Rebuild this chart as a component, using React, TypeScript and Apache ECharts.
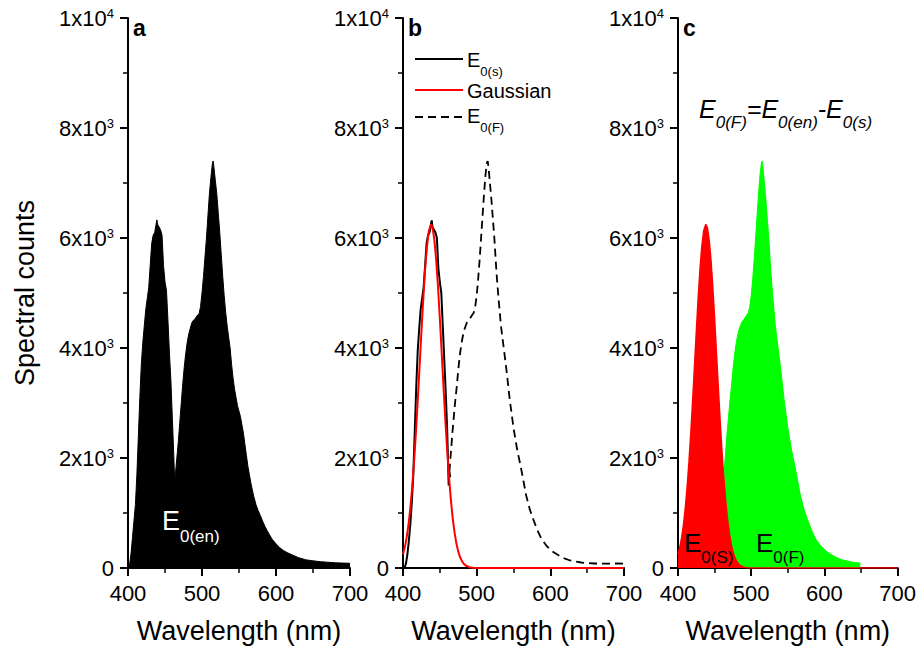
import React, { useEffect, useRef } from "react";
import * as echarts from "echarts";

const FONT = "'Liberation Sans', Arial, Helvetica, sans-serif";

// Panel a: measured emission spectrum E0(en) [wavelength nm, counts]
const E_en: [number, number][] = [
  [400, 0], [402, 50], [404, 250], [406, 550], [408, 850], [410, 1150], [412, 1700], [414, 2400],
  [416, 3100], [418, 3700], [420, 4100], [422, 4400], [424, 4700], [426, 4900], [428, 5100],
  [430, 5500], [432, 5900], [434, 6050], [436, 6100], [438, 6250], [439, 6330], [440, 6250],
  [442, 6200], [444, 6150], [446, 6050], [448, 5500], [450, 5200], [452, 5050], [454, 4500],
  [456, 3900], [458, 3400], [460, 2700], [462, 2000], [463, 1600], [464, 1700], [466, 2000],
  [468, 2300], [470, 2650], [472, 3000], [474, 3350], [476, 3650], [478, 3900], [480, 4100],
  [482, 4250], [484, 4350], [486, 4450], [488, 4500], [490, 4520], [492, 4560], [494, 4600],
  [496, 4620], [498, 4750], [500, 5000], [502, 5300], [504, 5650], [506, 6000], [508, 6400],
  [510, 6800], [512, 7100], [514, 7350], [515, 7400], [516, 7300], [518, 7050], [520, 6800],
  [522, 6450], [524, 6100], [526, 5700], [528, 5300], [530, 4950], [532, 4650], [534, 4400],
  [536, 4200], [538, 4000], [540, 3700], [542, 3450], [544, 3250], [546, 3100], [548, 2950],
  [550, 2850], [552, 2750], [554, 2600], [556, 2450], [558, 2250], [560, 2050], [562, 1850],
  [564, 1700], [566, 1550], [568, 1420], [570, 1300], [573, 1150], [576, 1040], [579, 950],
  [582, 850], [585, 760], [588, 680], [591, 610], [595, 520], [600, 440], [605, 370], [610, 320],
  [615, 280], [620, 250], [630, 190], [640, 150], [650, 130], [660, 115], [670, 105], [680, 95],
  [690, 90], [700, 85],
];

// Panel b: E0(s) measured blue band
const E_s: [number, number][] = [
  [400, 0], [402, 0], [404, 80], [406, 250], [408, 500], [410, 800], [412, 1200], [414, 1700],
  [416, 2500], [418, 3300], [420, 3950], [422, 4350], [424, 4700], [426, 4900], [428, 5100],
  [430, 5500], [432, 5900], [434, 6050], [436, 6100], [438, 6250], [439, 6320], [440, 6200],
  [442, 6150], [444, 6100], [446, 6000], [448, 5450], [450, 5200], [452, 5000], [454, 4400],
  [456, 3800], [458, 3200], [460, 2500], [461, 2000], [462, 1500], [463, 1750], [464, 1650],
];

// Gaussian fit of the blue band (panel b red line, panel c red area)
const Gauss: [number, number][] = [
  [400, 252], [402.5, 380], [405, 556], [407.5, 791], [410, 1096], [412.5, 1474], [415, 1929],
  [417.5, 2457], [420, 3042], [422.5, 3665], [425, 4293], [427.5, 4893], [430, 5422],
  [432.5, 5845], [435, 6126], [438, 6250], [440, 6194], [442.5, 5975], [445, 5605],
  [447.5, 5115], [450, 4537], [452.5, 3917], [455, 3288], [457.5, 2685], [460, 2131],
  [462.5, 1647], [465, 1237], [467.5, 904], [470, 642], [472.5, 444], [475, 298], [477.5, 195],
  [480, 124], [482.5, 77], [485, 46], [490, 15], [495, 5], [500, 0], [700, 0],
];

// E0(F) = E0(en) - E0(s)
const E_F: [number, number][] = [
  [463, 1750], [465, 2100], [467, 2450], [469, 2750], [471, 3050], [473, 3300], [475, 3600],
  [477, 3850], [479, 4050], [481, 4200], [483, 4320], [485, 4400], [487, 4470], [490, 4520],
  [493, 4580], [496, 4640], [498, 4750], [500, 4950], [502, 5250], [504, 5600], [506, 6000],
  [508, 6400], [510, 6800], [512, 7150], [514, 7370], [515, 7400], [516, 7300], [518, 7000],
  [520, 6700], [522, 6350], [524, 6000], [527, 5350], [530, 4850], [533, 4400], [536, 4080],
  [540, 3650], [545, 3050], [550, 2550], [555, 2150], [560, 1830], [563, 1620], [567, 1330],
  [572, 1070], [577, 880], [582, 700], [588, 530], [595, 400], [602, 310], [610, 240],
  [618, 180], [625, 145], [635, 115], [642, 100], [649, 90], [660, 82], [675, 80], [690, 82],
  [700, 80],
];
const E_F_END = 649;

const PANEL_LETTERS = ["a", "b", "c"];
const X_TITLE = "Wavelength (nm)";
const Y_TITLE = "Spectral counts";

const GRIDS = [
  { left: 128, top: 18, width: 222, height: 550 },
  { left: 403, top: 18, width: 221, height: 550 },
  { left: 678, top: 18, width: 221, height: 550 },
];

let measureCtx: CanvasRenderingContext2D | null = null;
function textWidth(text: string, size: number, italic: boolean) {
  if (!measureCtx) measureCtx = document.createElement("canvas").getContext("2d");
  if (!measureCtx) return text.length * size * 0.55;
  measureCtx.font = `${italic ? "italic " : ""}${size}px ${FONT}`;
  return measureCtx.measureText(text).width;
}

// Text with subscripts, built from separate text pieces
function subText(
  x: number, yMain: number, ySub: number, parts: [string, string][], F: number, f: number,
  fill: string, italic = false
) {
  const out: any[] = [];
  let cx = x;
  const fontStyle = italic ? "italic" : "normal";
  for (const [m, s] of parts) {
    out.push({
      type: "text", x: cx, y: yMain, z: 100, zlevel: 0, silent: true,
      style: { text: m, fontSize: F, fontFamily: FONT, fontStyle, fill, align: "left", verticalAlign: "middle" },
    });
    cx += textWidth(m, F, italic);
    if (s) {
      out.push({
        type: "text", x: cx, y: ySub, z: 100, zlevel: 0, silent: true,
        style: { text: s, fontSize: f, fontFamily: FONT, fontStyle, fill, align: "left", verticalAlign: "middle" },
      });
      cx += textWidth(s, f, italic);
    }
  }
  return out;
}

function yLabel(v: number) {
  if (v === 0) return "{b|0}";
  if (v === 10000) return "{b|1x10}{s|4}";
  return `{b|${v / 1000}x10}{s|3}`;
}

export default function App() {
  const ref = useRef<HTMLDivElement>(null);
  useEffect(() => {
    if (!ref.current) return;
    const chart = echarts.init(ref.current, undefined, { renderer: "svg" });
    const xAxis = GRIDS.map((_, i) => ({
      gridIndex: i,
      type: "value",
      min: 400,
      max: 700,
      interval: 100,
      axisLine: { show: true, onZero: false, lineStyle: { color: "#000", width: 2 } },
      axisTick: { show: true, length: 8, lineStyle: { color: "#000", width: 2 } },
      minorTick: { show: true, splitNumber: 2, length: 5, lineStyle: { color: "#000", width: 1.5 } },
      splitLine: { show: false },
      minorSplitLine: { show: false },
      axisLabel: { fontSize: 22, color: "#000", fontFamily: FONT, margin: 14 },
      name: X_TITLE,
      nameLocation: "middle",
      nameGap: 49,
      nameTextStyle: { fontSize: 27, color: "#000", fontFamily: FONT },
    }));
    const yAxis = GRIDS.map((_, i) => ({
      gridIndex: i,
      type: "value",
      min: 0,
      max: 10000,
      interval: 2000,
      axisLine: { show: true, onZero: false, lineStyle: { color: "#000", width: 2 } },
      axisTick: { show: true, length: 8, lineStyle: { color: "#000", width: 2 } },
      minorTick: { show: true, splitNumber: 2, length: 5, lineStyle: { color: "#000", width: 1.5 } },
      splitLine: { show: false },
      minorSplitLine: { show: false },
      axisLabel: {
        color: "#000",
        margin: 14,
        formatter: yLabel,
        rich: {
          b: { fontSize: 22, lineHeight: 22, verticalAlign: "bottom", padding: [1, 0, 0, 0], fontFamily: FONT, color: "#000" },
          s: { fontSize: 13, lineHeight: 13, verticalAlign: "top", fontFamily: FONT, color: "#000" },
        },
      },
      name: i === 0 ? Y_TITLE : "",
      nameLocation: "middle",
      nameGap: 90,
      nameTextStyle: { fontSize: 27, color: "#000", fontFamily: FONT },
    }));

    const series: any[] = [
      {
        type: "line", xAxisIndex: 0, yAxisIndex: 0, data: E_en, symbol: "none",
        lineStyle: { color: "#000", width: 1 }, itemStyle: { color: "#000" },
        areaStyle: { color: "#000", opacity: 1 },
      },
      {
        type: "line", xAxisIndex: 1, yAxisIndex: 1, data: E_s, symbol: "none",
        lineStyle: { color: "#000", width: 2 }, itemStyle: { color: "#000" },
      },
      {
        type: "line", xAxisIndex: 1, yAxisIndex: 1, data: E_F, symbol: "none",
        lineStyle: { color: "#000", width: 1.8, type: [8, 5] }, itemStyle: { color: "#000" },
      },
      {
        type: "line", xAxisIndex: 1, yAxisIndex: 1, data: Gauss, symbol: "none",
        lineStyle: { color: "#ff0000", width: 2 }, itemStyle: { color: "#ff0000" },
      },
      {
        type: "line", xAxisIndex: 2, yAxisIndex: 2, data: E_F.filter((p) => p[0] <= E_F_END),
        symbol: "none", lineStyle: { color: "#00ff00", width: 1 }, itemStyle: { color: "#00ff00" },
        areaStyle: { color: "#00ff00", opacity: 1 },
      },
      {
        type: "line", xAxisIndex: 2, yAxisIndex: 2, data: Gauss, symbol: "none",
        lineStyle: { color: "#ff0000", width: 1.5 }, itemStyle: { color: "#ff0000" },
        areaStyle: { color: "#ff0000", opacity: 1 },
      },
    ];

    const letterPos = [[133, 16], [408, 16], [683, 16]];
    const graphic: any[] = [
      ...PANEL_LETTERS.map((t, i) => ({
        type: "text", x: letterPos[i][0], y: letterPos[i][1], z: 100, silent: true,
        style: { text: t, fontSize: 23, fontWeight: "bold", fontFamily: FONT, fill: "#000", align: "left", verticalAlign: "top" },
      })),
      // panel a label
      ...subText(162, 521, 536, [["E", "0(en)"]], 27, 17, "#fff"),
      // panel b legend
      { type: "line", z: 100, silent: true, shape: { x1: 415, y1: 59, x2: 463, y2: 59 }, style: { stroke: "#000", lineWidth: 2 } },
      ...subText(467, 60, 71, [["E", "0(s)"]], 20, 13, "#000"),
      { type: "line", z: 100, silent: true, shape: { x1: 415, y1: 90, x2: 463, y2: 90 }, style: { stroke: "#ff0000", lineWidth: 2 } },
      {
        type: "text", x: 467, y: 91, z: 100, silent: true,
        style: { text: "Gaussian", fontSize: 20, fontFamily: FONT, fill: "#000", align: "left", verticalAlign: "middle" },
      },
      { type: "line", z: 100, silent: true, shape: { x1: 415, y1: 117, x2: 463, y2: 117 }, style: { stroke: "#000", lineWidth: 1.8, lineDash: [8, 5] } },
      ...subText(467, 116, 127, [["E", "0(F)"]], 20, 13, "#000"),
      // panel c labels
      ...subText(684, 543, 557, [["E", "0(S)"]], 26, 17, "#000"),
      ...subText(756, 543, 557, [["E", "0(F)"]], 26, 17, "#000"),
      ...subText(699, 109, 122, [["E", "0(F)"], ["=E", "0(en)"], ["-E", "0(s)"]], 25, 17, "#000", true),
    ];

    chart.setOption({
      animation: false,
      backgroundColor: "#fff",
      grid: GRIDS,
      xAxis,
      yAxis,
      series,
      graphic,
    });
    return () => chart.dispose();
  }, []);
  return (
    <div
      ref={ref}
      style={{ position: "absolute", left: 0, top: 0, width: 919, height: 660, background: "#fff" }}
    />
  );
}
